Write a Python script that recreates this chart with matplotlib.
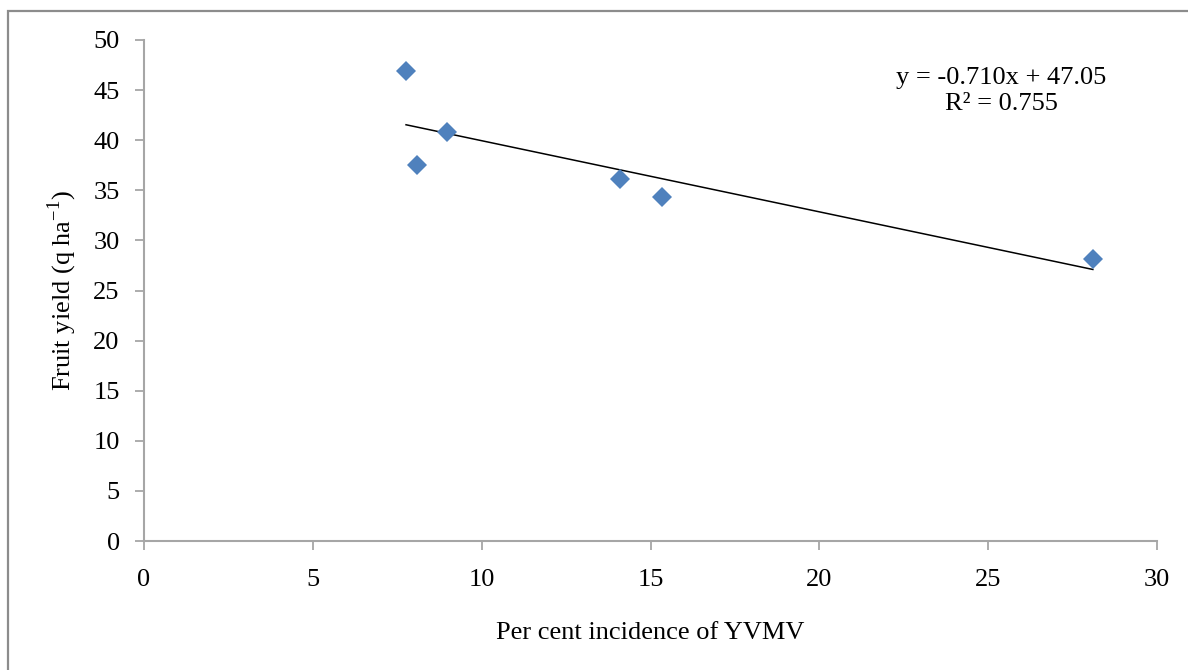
import matplotlib
matplotlib.use("Agg")
import matplotlib.pyplot as plt
from matplotlib.patches import Rectangle

plt.rcParams['font.family'] = ['Liberation Serif', 'DejaVu Serif']
plt.rcParams['mathtext.fontset'] = 'custom'
plt.rcParams['mathtext.rm'] = 'Liberation Serif'

# values
incidence = [7.76, 8.08, 8.97, 14.1, 15.34, 28.1]
fruit_yield = [46.9, 37.5, 40.8, 36.1, 34.3, 28.1]
slope, intercept = -0.710, 47.05
x_ticks = [0, 5, 10, 15, 20, 25, 30]
y_ticks = [0, 5, 10, 15, 20, 25, 30, 35, 40, 45, 50]

fig = plt.figure(figsize=(11.88, 6.70), dpi=100)
fig.patches.append(Rectangle((8/1188, -0.2), 1.2, 1.2 - 11/670,
                             transform=fig.transFigure, fill=False,
                             edgecolor='#8c8c8c', lw=1.6))
ax = fig.add_axes([144/1188, 1 - 541/670, (1157-144)/1188, (541-40)/670])

ax.plot(incidence, fruit_yield, 'D', color='#4F81BD', ms=9.8, mew=0, zorder=3)
x0, x1 = min(incidence), max(incidence)
ax.plot([x0, x1], [slope*x0 + intercept, slope*x1 + intercept], color='black', lw=1.1)

ax.set_xlim(0, 30)
ax.set_ylim(0, 50)
ax.set_xticks(x_ticks)
ax.set_yticks(y_ticks)
for s in ['top', 'right']:
    ax.spines[s].set_visible(False)
for s in ['left', 'bottom']:
    ax.spines[s].set_color('#a6a6a6')
    ax.spines[s].set_linewidth(1.5)
ax.tick_params(axis='both', direction='out', length=6.5, width=1.3, color='#a6a6a6',
               labelsize=19)
ax.tick_params(axis='y', pad=11)
ax.tick_params(axis='x', pad=14)

ax.set_xlabel('Per cent incidence of YVMV', fontsize=19, labelpad=22)
ax.set_ylabel('Fruit yield (q ha$^{\\mathregular{-1}}$)', fontsize=19, labelpad=10)

ax.text(0.846, 0.898, 'y = -0.710x + 47.05\nR² = 0.755', transform=ax.transAxes,
        ha='center', va='center', fontsize=19, multialignment='center', linespacing=1.28)

fig.savefig('out.png', dpi=100)
